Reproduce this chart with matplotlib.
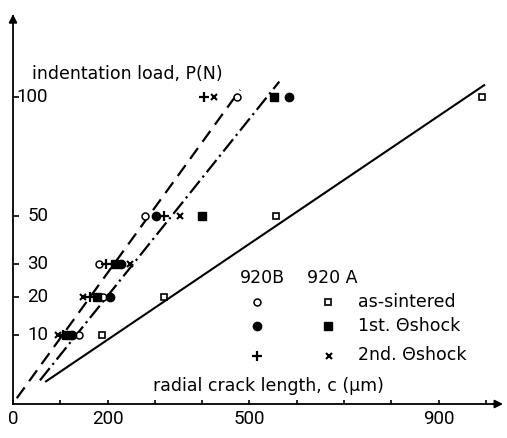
import numpy as np
import matplotlib
matplotlib.use("Agg")
import matplotlib.pyplot as plt
from matplotlib.ticker import MultipleLocator, FixedLocator
import matplotlib.transforms as mtransforms

plt.rcParams['font.family'] = ['DejaVu Sans']

# indentation load P (N) and radial crack length c (um)
loads = [10, 20, 30, 50, 100]
loads_a_sint = [10, 20, 50, 100]

c_b_sint = [140, 190, 181, 280, 473]      # 920B as-sintered
c_b_shock1 = [125, 205, 228, 302, 583]    # 920B 1st shock
c_b_shock2 = [105, 162, 197, 319, 404]    # 920B 2nd shock
c_a_sint = [188, 320, 556, 991]           # 920A as-sintered
c_a_shock1 = [115, 178, 216, 400, 552]    # 920A 1st shock
c_a_shock2 = [96, 147, 247, 353, 426]     # 920A 2nd shock

# fitted lines (end points)
fit_solid_c = [68, 998]
fit_solid_p = [1.5, 106]
fit_dash_c = [8, 480]
fit_dash_p = [0.06, 103.3]
fit_dashdot_c = [57, 563]
fit_dashdot_p = [1.7, 107.5]

y_ticks = [10, 20, 30, 50, 100]
x_ticks = [0, 200, 500, 900]


# load axis is roughly P^(2/3) (c ~ P^(2/3)), 50 N mark drawn a bit low
def fwd(p):
    p = np.asarray(p, dtype=float)
    v = np.sign(p) * np.abs(p) ** (2 / 3)
    return v + np.interp(p, [30, 50, 100], [0, -0.49, 0])


_grid = np.linspace(-50, 400, 20001)


def inv(v):
    return np.interp(np.asarray(v, dtype=float), fwd(_grid), _grid)


fig = plt.figure(figsize=(5.07, 4.38), dpi=100)
ax = fig.add_axes([13 / 507, 34 / 438, 487 / 507, 388 / 438])
ax.set_yscale('function', functions=(fwd, inv))
ax.set_xlim(0, 1029.6)
ax.set_ylim(inv(-0.255), inv(27.26))

for s in ['top', 'right']:
    ax.spines[s].set_visible(False)
for s in ['left', 'bottom']:
    ax.spines[s].set_linewidth(1.3)

# fit lines
ax.plot(fit_solid_c, fit_solid_p, color='k', lw=1.5, solid_capstyle='butt')
ax.plot(fit_dash_c, fit_dash_p, color='k', lw=1.6, dashes=(6, 3.5))
ax.plot(fit_dashdot_c, fit_dashdot_p, color='k', lw=1.6, dashes=(7, 2, 1, 2))

# data points
ax.plot(c_b_sint, loads, 'o', ms=5, mfc='white', mec='k', mew=1.1, ls='none')
ax.plot(c_b_shock1, loads, 'o', ms=6, color='k', ls='none')
ax.plot(c_b_shock2, loads, '+', ms=7, mec='k', mew=1.6, ls='none')
ax.plot(c_a_sint, loads_a_sint, 's', ms=5, mfc='white', mec='k', mew=1.2, ls='none')
ax.plot(c_a_shock1, loads, 's', ms=6, color='k', ls='none')
ax.plot(c_a_shock2, loads, 'x', ms=5, mec='k', mew=1.5, ls='none')

# ticks
num_font = ['Roboto', 'DejaVu Sans']
ax.xaxis.set_major_locator(FixedLocator(x_ticks))
ax.xaxis.set_minor_locator(MultipleLocator(100))
ax.tick_params(axis='x', which='both', direction='in', length=3, width=1.2,
               labelsize=13.5, pad=4)
for lab in ax.get_xticklabels():
    lab.set_fontfamily(num_font)
ax.yaxis.set_major_locator(FixedLocator(y_ticks))
ax.yaxis.set_minor_locator(FixedLocator([]))
ax.tick_params(axis='y', which='both', direction='in', length=4, width=1.2,
               labelleft=False)
trans = mtransforms.blended_transform_factory(ax.transAxes, ax.transData)
for t in y_ticks:
    ax.text(0.072, t, str(t), transform=trans, ha='right', va='center',
            fontsize=13.5, family=num_font)

# axis arrows
ax.annotate('', xy=(1.012, 0), xytext=(0.98, 0), xycoords='axes fraction',
            arrowprops=dict(arrowstyle='-|>', color='k', lw=1.3, mutation_scale=12))
ax.annotate('', xy=(0, 1.012), xytext=(0, 0.98), xycoords='axes fraction',
            arrowprops=dict(arrowstyle='-|>', color='k', lw=1.3, mutation_scale=12))

# axis titles
ax.text(0.039, 0.851, 'indentation load, P(N)', transform=ax.transAxes,
        ha='left', va='center', fontsize=12.5)
ax.text(0.287, 0.046, 'radial crack length, c (\u03bcm)', transform=ax.transAxes,
        ha='left', va='center', fontsize=12.5)

# legend table
ax.text(0.466, 0.325, '920B', transform=ax.transAxes, ha='left', va='center', fontsize=12.5)
ax.text(0.604, 0.325, '920 A', transform=ax.transAxes, ha='left', va='center', fontsize=12.5)
rows = [0.262, 0.202, 0.125]
names = ['as-sintered', '1st. \u0398shock', '2nd. \u0398shock']
for y, name in zip(rows, names):
    ax.text(0.708, y, name, transform=ax.transAxes, ha='left', va='center', fontsize=12.5)
ax.plot(0.502, rows[0], 'o', ms=5, mfc='white', mec='k', mew=1.1, transform=ax.transAxes, clip_on=False)
ax.plot(0.647, rows[0], 's', ms=5, mfc='white', mec='k', mew=1.2, transform=ax.transAxes, clip_on=False)
ax.plot(0.502, rows[1], 'o', ms=6, color='k', transform=ax.transAxes, clip_on=False)
ax.plot(0.647, rows[1], 's', ms=6, color='k', transform=ax.transAxes, clip_on=False)
ax.plot(0.502, rows[2], '+', ms=7, mec='k', mew=1.6, transform=ax.transAxes, clip_on=False)
ax.plot(0.649, rows[2], 'x', ms=5, mec='k', mew=1.5, transform=ax.transAxes, clip_on=False)

fig.savefig('out.png', dpi=100)
